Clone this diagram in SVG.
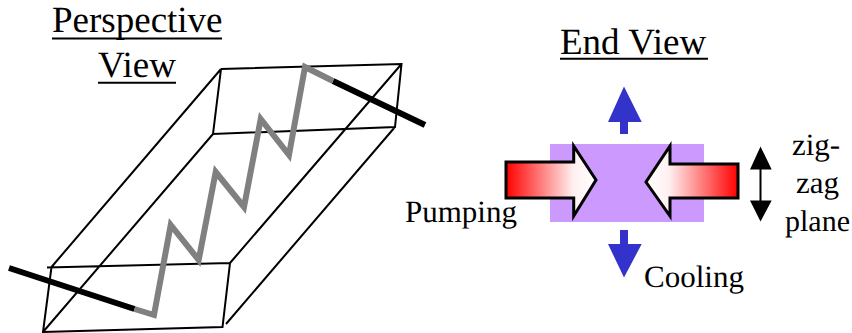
<svg xmlns="http://www.w3.org/2000/svg" width="852" height="333" viewBox="0 0 852 333">
<style>
text{font-family:"Liberation Serif","Times New Roman",serif;fill:#000;text-rendering:geometricPrecision}
.t{font-size:37px}
.u{stroke:#000;stroke-width:2;fill:none}
.l{font-size:31px}
.e{fill:none;stroke:#000;stroke-width:2}
.blue{fill:#3333cc}
.big{stroke:#000;stroke-width:3;stroke-linejoin:miter}
</style>
<defs>
<linearGradient id="gl" gradientUnits="userSpaceOnUse" x1="506" y1="0" x2="596" y2="0"><stop offset="0" stop-color="#ff0000"/><stop offset="0.75" stop-color="#fff0f0"/><stop offset="1" stop-color="#ffffff"/></linearGradient>
<linearGradient id="gr" gradientUnits="userSpaceOnUse" x1="738" y1="0" x2="646" y2="0"><stop offset="0" stop-color="#ff0000"/><stop offset="0.75" stop-color="#fff0f0"/><stop offset="1" stop-color="#ffffff"/></linearGradient>
</defs>
<g id="title-perspective"><text class="t" x="52" y="32">Perspective</text><path class="u" d="M52 38.5H222"/><text class="t" x="98" y="77">View</text><path class="u" d="M98 82.7H176"/></g>
<g id="title-end"><text class="t" x="560" y="54">End View</text><path class="u" d="M560 58.7H708"/></g>
<g id="perspective-box">
<path class="e" d="M47 267.5L230 263L222.5 327L43 332L51.5 267M221 69L401.5 64L395 127L213 134L221 69M51.5 267L221 69M43 332L213 134M230 263L401.5 64M226 324L395 127"/>
</g>
<g id="zigzag">
<path d="M9 268L134.5 309" fill="none" stroke="#000" stroke-width="6"/>
<path d="M333 81L425 125" fill="none" stroke="#000" stroke-width="6"/>
<path d="M134.5 309L154 315L170.7 225L198.7 260L215.7 172L244 207L260.7 119L289 155L305 67L333 81" fill="none" stroke="#808080" stroke-width="6" stroke-linejoin="miter"/>
</g>
<g id="medium"><rect x="550" y="144" width="154" height="78" fill="#cc99ff"/></g>
<g id="cooling-up"><path class="blue" d="M624 86.5L641.7 122H628V134H620V122H608Z"/></g>
<g id="cooling-down"><path class="blue" d="M620 230H628V244H641.7L624 277.5L608 244H620Z"/></g>
<g id="pump-left"><path class="big" fill="url(#gl)" d="M506 162H573.7V146L596 180L573.7 216V198H506Z"/></g>
<g id="pump-right"><path class="big" fill="url(#gr)" d="M738 164H670V146L646 182L670 216V198H738Z"/></g>
<g id="zigzag-plane-arrow"><path d="M760.5 146.5L771.7 169.5H761.5V200.5H771.7L760.5 221.5L750 200.5H759.5V169.5H750Z" fill="#000"/></g>
<g id="labels">
<text class="l" x="405" y="222">Pumping</text>
<text class="l" x="644" y="287">Cooling</text>
<text class="l" x="792" y="154.5">zig-</text>
<text class="l" x="796" y="192.5">zag</text>
<text class="l" x="785" y="231" style="font-size:30px">plane</text>
</g>
</svg>
